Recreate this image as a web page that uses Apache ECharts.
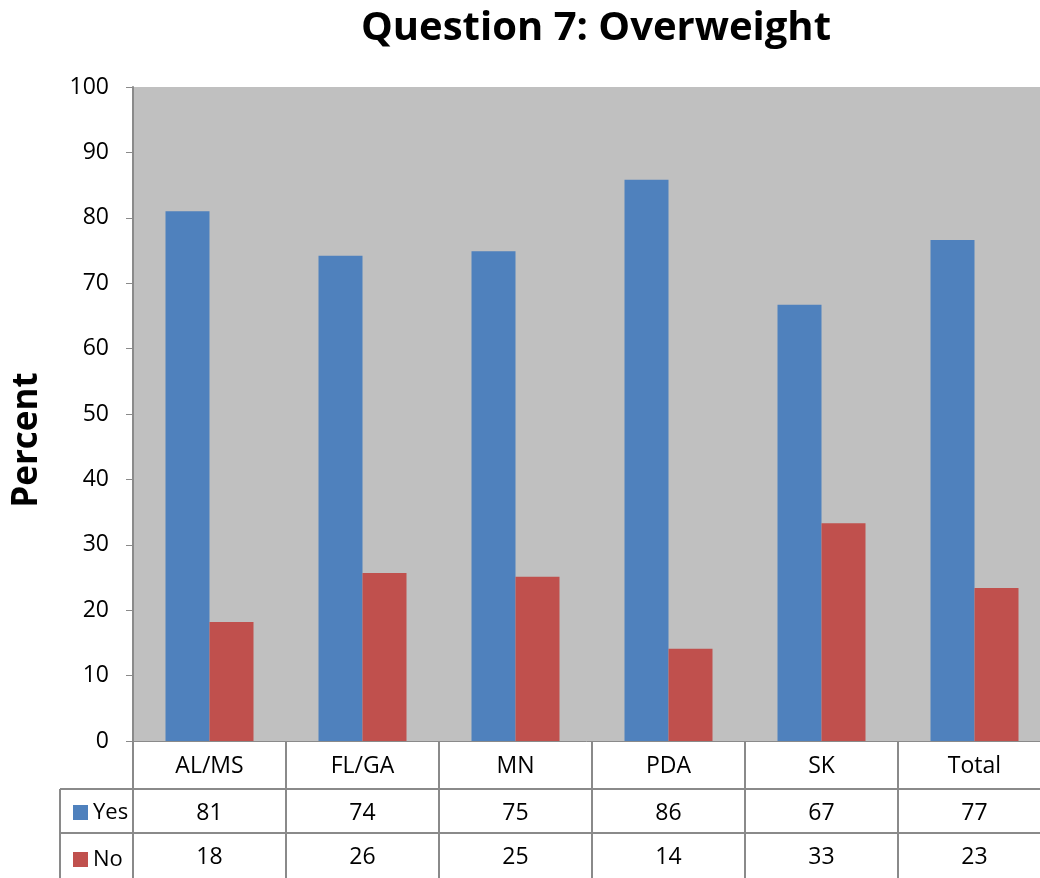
<!DOCTYPE html>
<html>
<head>
<meta charset="utf-8">
<script src="https://cdn.jsdelivr.net/npm/echarts@6/dist/echarts.min.js"></script>
<style>html,body{margin:0;padding:0;background:#fff}#c{width:1040px;height:878px}</style>
</head>
<body>
<div id="c"></div>
<script>
const categories = ['AL/MS', 'FL/GA', 'MN', 'PDA', 'SK', 'Total'];
const yesValues = [81.0, 74.2, 74.9, 85.8, 66.7, 76.6];
const noValues = [18.2, 25.7, 25.1, 14.1, 33.3, 23.4];
const yTicks = [0, 10, 20, 30, 40, 50, 60, 70, 80, 90, 100];

const FONT = '"Open Sans", sans-serif';
const LINE = '#8a8a8a';
const chart = echarts.init(document.getElementById('c'));

function tableAxis(idx, offset, labels, margin, tickLen) {
  return {
    type: 'category', gridIndex: 0, position: 'bottom', offset: offset,
    data: labels,
    axisLine: { show: true, lineStyle: { color: LINE, width: idx === 0 ? 1 : 2 } },
    axisTick: { show: true, inside: false, length: tickLen, interval: 0, alignWithLabel: false,
                lineStyle: { color: LINE, width: 2 } },
    axisLabel: { show: true, interval: 0, margin: margin, fontFamily: FONT, fontSize: 23, color: '#000' },
    splitLine: { show: false }
  };
}

chart.setOption({
  animation: false,
  title: {
    text: 'Question 7: Overweight', left: 591, top: 4, textAlign: 'center',
    textStyle: { fontFamily: FONT, fontWeight: 'bold', fontSize: 40, color: '#000' }
  },
  legend: {
    data: ['Yes', 'No'], orient: 'vertical', left: 68, top: 795,
    itemWidth: 15, itemHeight: 15, itemGap: 22, icon: 'rect',
    textStyle: { fontFamily: FONT, fontSize: 22, color: '#000', lineHeight: 25 },
    selectedMode: false
  },
  grid: {
    left: 133, width: 918, top: 87, bottom: 137, outerBoundsMode: 'none', containLabel: false,
    show: true, backgroundColor: '#c0c0c0', borderWidth: 0
  },
  xAxis: [
    tableAxis(0, 0, categories, 14, 48),
    tableAxis(1, 48, yesValues.map(v => String(Math.round(v))), 13, 45),
    tableAxis(2, 92, noValues.map(v => String(Math.round(v))), 13, 50)
  ],
  yAxis: {
    type: 'value', min: yTicks[0], max: yTicks[yTicks.length - 1], interval: 10,
    axisLine: { show: true, lineStyle: { color: LINE, width: 2 } },
    axisTick: { show: true, length: 7, lineStyle: { color: LINE, width: 1 } },
    axisLabel: { fontFamily: FONT, fontSize: 23, color: '#000', margin: 24 },
    splitLine: { show: false }
  },
  graphic: [
    { type: 'text', x: 27, y: 440, rotation: Math.PI / 2,
      style: { text: 'Percent', fontFamily: FONT, fontWeight: 'bold', fontSize: 35, fill: '#000',
               textAlign: 'center', textVerticalAlign: 'middle' } },
    { type: 'line', shape: { x1: 60, y1: 789, x2: 133, y2: 789 }, style: { stroke: LINE, lineWidth: 2 } },
    { type: 'line', shape: { x1: 60, y1: 833, x2: 133, y2: 833 }, style: { stroke: LINE, lineWidth: 2 } },
    { type: 'line', shape: { x1: 60, y1: 789, x2: 60, y2: 880 }, style: { stroke: LINE, lineWidth: 2 } }
  ],
  series: [
    { name: 'Yes', type: 'bar', xAxisIndex: 0, data: yesValues, barWidth: 44, barGap: '0%',
      itemStyle: { color: '#4f81bd' } },
    { name: 'No', type: 'bar', xAxisIndex: 0, data: noValues, barWidth: 44, barGap: '0%',
      itemStyle: { color: '#c0504d' } }
  ]
});
</script>
</body>
</html>
